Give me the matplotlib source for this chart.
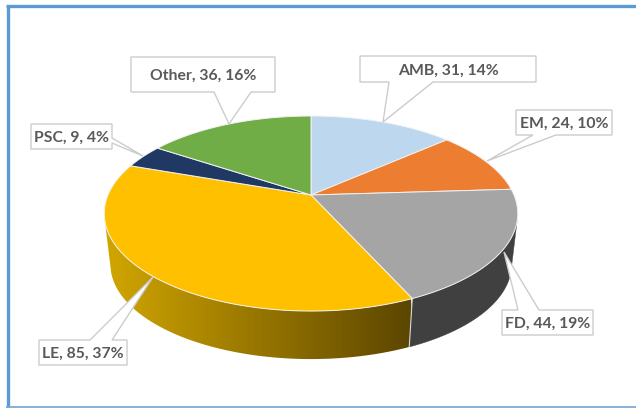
import numpy as np
import matplotlib
matplotlib.use("Agg")
import matplotlib.pyplot as plt
from matplotlib.patches import Polygon
from matplotlib.colors import LinearSegmentedColormap

categories = ["AMB", "EM", "FD", "LE", "PSC", "Other"]
values = [31, 24, 44, 85, 9, 36]
colors = ["#BDD7EE", "#ED7D31", "#A5A5A5", "#FFC000", "#1F3864", "#70AD47"]

# perspective disc geometry (pixels)
CX, CY, RX, RY, K = 311.0, 195.0, 203.0, 94.0, 0.19
LOW_S, LOW_CY = 0.97, 246.5
WALL_FROM, WALL_TO = np.radians(105.7), np.radians(254.3)  # visible silhouette of the side wall

# callouts: box (x0, y0, x1, y1), side of the pointer, pointer base a/b, pointer tip
callouts = {
    "AMB": ((360, 56, 536, 82), "bottom", (389, 433), (383, 122)),
    "EM": ((516, 110, 612, 135), "bottom", (533, 556), (487, 161)),
    "FD": ((502, 310, 593, 335), "top", (518, 539), (504, 252)),
    "LE": ((39, 340, 127, 365), "top", (90, 112), (153, 277)),
    "PSC": ((31, 124, 112, 149), "right", (138, 143), (143, 156)),
    "Other": ((131, 57, 275, 92), "bottom", (214, 251), (229, 124)),
}


def project(theta, s=1.0, cy=CY):
    x, y = np.sin(theta), np.cos(theta)
    w = 1 + K * y
    return CX + s * RX * x / w, cy - s * RY * y / w


fig = plt.figure(figsize=(6.36, 4.08), dpi=100, facecolor="white")
ax = fig.add_axes([0, 0, 1, 1])
ax.axis("off")

# frame
ax.plot([7.5, 7.5], [5.5, 408], color="#5B9BD5", lw=2.4, solid_capstyle="butt", zorder=1)
ax.plot([6, 636], [5.5, 5.5], color="#5B9BD5", lw=2.4, solid_capstyle="butt", zorder=1)
ax.plot([6, 636], [406.8, 406.8], color="#7FA9D0", lw=1.3, solid_capstyle="butt", zorder=1)

total = sum(values)
edges = np.concatenate([[0], np.cumsum(values)]) / total * 2 * np.pi
wall_cmap = LinearSegmentedColormap.from_list("wall", ["#D2A600", "#5C4600"])

# side wall
for i, cat in enumerate(categories):
    if cat not in ("FD", "LE"):
        continue
    ts = np.linspace(max(edges[i], WALL_FROM), min(edges[i + 1], WALL_TO), 240)
    xa, ya = project(ts)
    xb, yb = project(ts[::-1], LOW_S, LOW_CY)
    outline = list(zip(np.r_[xa, xb], np.r_[ya, yb]))
    if cat == "FD":
        ax.add_patch(Polygon(outline, closed=True, fc="#404040", ec="#404040", lw=0.3, zorder=2))
        xs, ys = project(edges[i + 1]), project(edges[i + 1], LOW_S, LOW_CY)
        seam = ([xs[0], ys[0]], [xs[1], ys[1]])
    else:
        clip = Polygon(outline, closed=True, transform=ax.transData, fc="none", ec="none")
        ax.add_patch(clip)
        im = ax.imshow(np.linspace(0, 1, 256)[None, :], cmap=wall_cmap, aspect="auto",
                       extent=(105, 411, 365, 190), zorder=2.1)
        im.set_clip_path(clip)
        ax.plot(*seam, color="#D8D8D8", lw=0.8, zorder=2.5)

# top faces
for i, cat in enumerate(categories):
    ts = np.linspace(edges[i], edges[i + 1], 200)
    px, py = project(ts)
    ax.add_patch(Polygon(list(zip(np.r_[CX, px], np.r_[CY, py])), closed=True,
                         fc=colors[i], ec="#F2F2F2", lw=0.7, joinstyle="round", zorder=3))

# callouts
for cat, val in zip(categories, values):
    (x0, y0, x1, y1), side, (a, b), tip = callouts[cat]
    if side == "bottom":
        pts = [(x0, y0), (x1, y0), (x1, y1), (b, y1), tip, (a, y1), (x0, y1)]
    elif side == "top":
        pts = [(x0, y0), (a, y0), tip, (b, y0), (x1, y0), (x1, y1), (x0, y1)]
    else:
        pts = [(x0, y0), (x1, y0), (x1, a), tip, (x1, b), (x1, y1), (x0, y1)]
    ax.add_patch(Polygon(pts, closed=True, fc="white", ec="#CCCCCC", lw=1.0,
                         joinstyle="miter", zorder=4))
    ax.text((x0 + x1) / 2, (y0 + y1) / 2, f"{cat}, {val}, {round(val / total * 100)}%",
            ha="center", va="center_baseline", family="Lato", weight="bold",
            fontsize=11.3, color="#595959", zorder=5)

ax.set_xlim(0, 636)
ax.set_ylim(408, 0)
fig.savefig("out.png", dpi=100)
